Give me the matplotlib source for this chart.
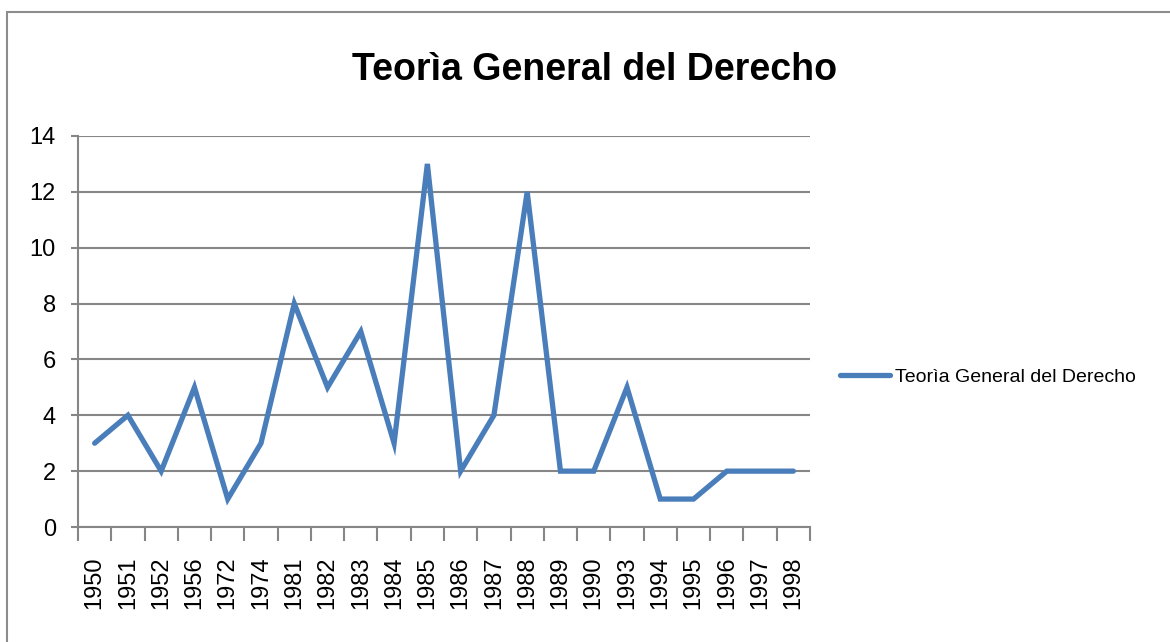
import matplotlib.pyplot as plt
from matplotlib.patches import Rectangle

years = ['1950', '1951', '1952', '1956', '1972', '1974', '1981', '1982', '1983', '1984', '1985',
         '1986', '1987', '1988', '1989', '1990', '1993', '1994', '1995', '1996', '1997', '1998']
values = [3, 4, 2, 5, 1, 3, 8, 5, 7, 3, 13, 2, 4, 12, 2, 2, 5, 1, 1, 2, 2, 2]
series_name = 'Teorìa General del Derecho'

plt.rcParams['font.family'] = ['Liberation Sans', 'DejaVu Sans']

fig = plt.figure(figsize=(11.7, 6.42), dpi=100)
# chart frame (only top/left edges visible in the picture)
fig.patches.append(Rectangle((7 / 1170, -0.1), 1.2, (642 - 12) / 642 + 0.1,
                             transform=fig.transFigure, fill=False,
                             edgecolor='#8c8c8c', linewidth=1.5))

ax = fig.add_axes([78 / 1170, (642 - 527) / 642, (810 - 78) / 1170, (527 - 136) / 642])

n = len(years)
x = range(n)
ax.plot(x, values, color='#4a7ebb', linewidth=3.8, solid_capstyle='round',
        solid_joinstyle='miter', label=series_name, zorder=3)

ax.set_xlim(-0.5, n - 0.5)
ax.set_ylim(0, 14)
ax.set_yticks(range(0, 15, 2))
ax.set_xticks([i - 0.5 for i in range(n + 1)], minor=False)
ax.set_xticklabels([])
ax.set_xticks(list(x), minor=True)
ax.set_xticklabels(years, minor=True, rotation=90, fontsize=17)
ax.tick_params(axis='x', which='minor', length=0, pad=21)
ax.tick_params(axis='x', which='major', length=10, width=1.5, color='#868686')
ax.tick_params(axis='y', length=5, width=1.5, color='#868686', labelsize=17, pad=11)

ax.grid(axis='y', color='#868686', linewidth=1.5)
ax.set_axisbelow(True)
for s in ['top', 'right']:
    ax.spines[s].set_visible(False)
for s in ['left', 'bottom']:
    ax.spines[s].set_color('#868686')
    ax.spines[s].set_linewidth(1.5)

fig.text(595 / 1170, 1 - 70 / 642, series_name, ha='center', va='center',
         fontsize=27, fontweight='bold')

ax.legend(loc='center left', bbox_to_anchor=(836 / 1170, 1 - 377 / 642),
          bbox_transform=fig.transFigure, frameon=False, fontsize=14,
          handlelength=2.6, handletextpad=0.25, borderpad=0.2, borderaxespad=0)

fig.savefig('out.png', dpi=100)
